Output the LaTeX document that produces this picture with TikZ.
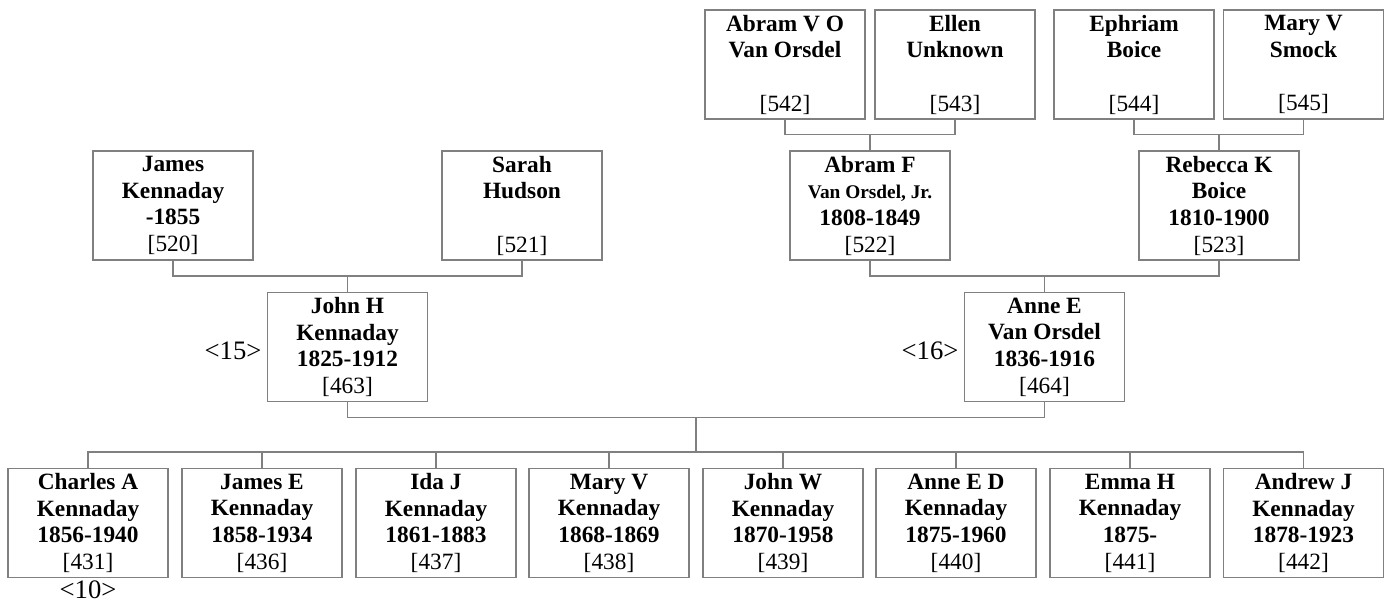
\documentclass[tikz,border=0pt]{standalone}
\usepackage{fontspec}
\setmainfont{Liberation Serif}
\usetikzlibrary{calc}
\definecolor{boxgray}{RGB}{128,128,128}

\begin{document}
\begin{tikzpicture}[x=0.75pt,y=0.75pt,yscale=-1,xscale=1,
  person/.style={draw=boxgray, line width=0.9pt, minimum width=120pt, minimum height=81.75pt,
    inner sep=0pt, align=center, font=\fontsize{17.5}{20}\selectfont},
  link/.style={draw=boxgray, line width=0.9pt},
  gennum/.style={inner sep=0pt, font=\fontsize{20}{22}\selectfont}]
\path[use as bounding box] (0,0) rectangle (1389,606);

%Great-grandparents
\node [person] (p542) at (785,64.5) {\textbf{Abram V O}\\\textbf{Van Orsdel}\\\mbox{}\\{[542]}};
\node [person] (p543) at (955,64.5) {\textbf{Ellen}\\\textbf{Unknown}\\\mbox{}\\{[543]}};
\node [person] (p544) at (1134,64.5) {\textbf{Ephriam}\\\textbf{Boice}\\\mbox{}\\{[544]}};
\node [person] (p545) at (1303.5,64.5) {\textbf{Mary V}\\\textbf{Smock}\\\mbox{}\\{[545]}};

%Grandparents
\node [person] (p520) at (173,205.5) {\textbf{James}\\\textbf{Kennaday}\\\textbf{-1855}\\{[520]}};
\node [person] (p521) at (522,205.5) {\textbf{Sarah}\\\textbf{Hudson}\\\mbox{}\\{[521]}};
\node [person] (p522) at (870,205.5) {\textbf{Abram F}\\{\fontsize{14.5}{20}\selectfont\textbf{Van Orsdel, Jr.}}\\\textbf{1808-1849}\\{[522]}};
\node [person] (p523) at (1219,205.5) {\textbf{Rebecca K}\\\textbf{Boice}\\\textbf{1810-1900}\\{[523]}};

%Parents
\node [person] (p463) at (347.5,347) {\textbf{John H}\\\textbf{Kennaday}\\\textbf{1825-1912}\\{[463]}};
\node [person] (p464) at (1044.5,347) {\textbf{Anne E}\\\textbf{Van Orsdel}\\\textbf{1836-1916}\\{[464]}};

%Children
\node [person] (c431) at (88,523) {\textbf{Charles A}\\\textbf{Kennaday}\\\textbf{1856-1940}\\{[431]}};
\node [person] (c436) at (262,523) {\textbf{James E}\\\textbf{Kennaday}\\\textbf{1858-1934}\\{[436]}};
\node [person] (c437) at (436,523) {\textbf{Ida J}\\\textbf{Kennaday}\\\textbf{1861-1883}\\{[437]}};
\node [person] (c438) at (609,523) {\textbf{Mary V}\\\textbf{Kennaday}\\\textbf{1868-1869}\\{[438]}};
\node [person] (c439) at (783,523) {\textbf{John W}\\\textbf{Kennaday}\\\textbf{1870-1958}\\{[439]}};
\node [person] (c440) at (956,523) {\textbf{Anne E D}\\\textbf{Kennaday}\\\textbf{1875-1960}\\{[440]}};
\node [person] (c441) at (1130,523) {\textbf{Emma H}\\\textbf{Kennaday}\\\textbf{1875-}\\{[441]}};
\node [person] (c442) at (1303.5,523) {\textbf{Andrew J}\\\textbf{Kennaday}\\\textbf{1878-1923}\\{[442]}};

% Text Node
\node [gennum] (g15) at (233,351) {<15>};
\node [gennum] (g16) at (930,351) {<16>};
\node [gennum] (g10) at (88,590) {<10>};

%Connectors
\draw [link] (p522.north) -- ++(0,-16) coordinate (m522);
\draw [link] (p542.south) |- (m522) -| (p543.south);
\draw [link] (p523.north) -- ++(0,-16) coordinate (m523);
\draw [link] (p544.south) |- (m523) -| (p545.south);
\draw [link] (p463.north) -- ++(0,-16) coordinate (m463);
\draw [link] (p520.south) |- (m463) -| (p521.south);
\draw [link] (p464.north) -- ++(0,-16) coordinate (m464);
\draw [link] (p522.south) |- (m464) -| (p523.south);

\coordinate (pm) at ($(p463.south)!0.5!(p464.south) + (0,15)$);
\coordinate (bus) at ($(c431.north) + (0,-16)$);
\draw [link] (p463.south) |- (pm) -| (p464.south);
\draw [link] (pm) -- (pm |- bus);
\draw [link] (c431.north) |- (bus) -| (c442.north);
\foreach \c in {c436,c437,c438,c439,c440,c441}
  \draw [link] (\c.north) -- (\c.north |- bus);

\end{tikzpicture}
\end{document}
